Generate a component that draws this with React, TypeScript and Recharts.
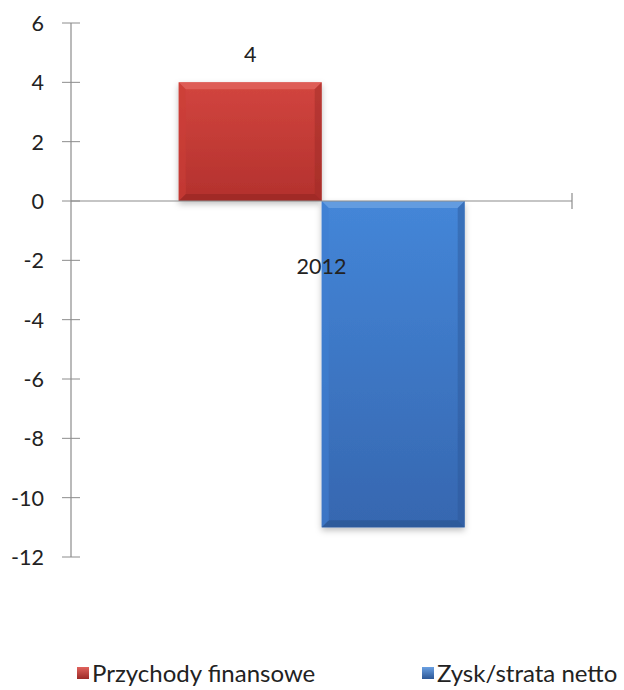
import { BarChart, Bar, XAxis, YAxis, ReferenceLine, Legend, LabelList } from "recharts";

const categories = ["2012"];
const przychodyFinansowe = [4];
const zyskStrataNetto = [-11];
const yTicks = [-12, -10, -8, -6, -4, -2, 0, 2, 4, 6];

const seriesNames = ["Przychody finansowe", "Zysk/strata netto"];

const data = categories.map((c, i) => ({
  name: c,
  przychody: przychodyFinansowe[i],
  zysk: zyskStrataNetto[i],
}));

const FONT = "Lato, 'Open Sans', sans-serif";
const AXIS = "#8c8c8c";

const palette = {
  red: { light: "#e0625c", face: "#cc3d37", dark: "#9c2a26", top: "#d2453f", bottom: "#b3312d" },
  blue: { light: "#6aa0e2", face: "#3f7fd2", dark: "#2c5796", top: "#4486d8", bottom: "#3667b0" },
};

function bevelBar(key: "red" | "blue") {
  return (props: any) => {
    const { x, y, width, height } = props;
    const top = Math.min(y, y + height);
    const h = Math.abs(height);
    const w = width;
    const b = 7;
    const c = palette[key];
    return (
      <g filter="url(#barShadow)">
        <rect x={x} y={top} width={w} height={h} fill={`url(#grad-${key})`} />
        <polygon points={`${x},${top} ${x + w},${top} ${x + w - b},${top + b} ${x + b},${top + b}`} fill={c.light} opacity={0.85} />
        <polygon points={`${x},${top + h} ${x + w},${top + h} ${x + w - b},${top + h - b} ${x + b},${top + h - b}`} fill={c.dark} opacity={0.8} />
        <polygon points={`${x},${top} ${x + b},${top + b} ${x + b},${top + h - b} ${x},${top + h}`} fill={c.face} opacity={0.6} />
        <polygon points={`${x + w},${top} ${x + w - b},${top + b} ${x + w - b},${top + h - b} ${x + w},${top + h}`} fill={c.dark} opacity={0.45} />
      </g>
    );
  };
}

function YTick(props: any) {
  const { x, y, payload } = props;
  return (
    <g>
      <line x1={x - 9} x2={x + 9} y1={y} y2={y} stroke={AXIS} strokeWidth={1} />
      <text x={x - 27} y={y} textAnchor="end" dominantBaseline="central" fontFamily={FONT} fontSize={21.5} fill="#222">
        {payload.value}
      </text>
    </g>
  );
}

function ZeroLine(props: any) {
  const { x1, x2, y1, y2 } = props;
  return (
    <g>
      <line x1={x1} x2={x2} y1={y1} y2={y2} stroke={AXIS} strokeWidth={1.2} />
      <line x1={x2} x2={x2} y1={y2 - 8} y2={y2 + 8} stroke={AXIS} strokeWidth={1.2} />
    </g>
  );
}

function LegendContent() {
  const keys: ("red" | "blue")[] = ["red", "blue"];
  return (
    <div style={{ display: "flex", paddingLeft: 77, fontFamily: FONT, fontSize: 24, color: "#222", lineHeight: "28px" }}>
      {seriesNames.map((n, i) => (
        <div key={n} style={{ display: "flex", alignItems: "center", width: i === 0 ? 345 : "auto" }}>
          <span
            style={{
              display: "inline-block",
              width: 12,
              height: 12,
              marginRight: 3,
              background: `linear-gradient(${palette[keys[i]].light}, ${palette[keys[i]].dark})`,
            }}
          />
          {n}
        </div>
      ))}
    </div>
  );
}

export default function App() {
  return (
    <div style={{ position: "absolute", left: 0, top: 0, background: "#fff" }}>
      <BarChart
        width={624}
        height={690}
        data={data}
        margin={{ top: 23, right: 52, bottom: 133, left: 0 }}
        barCategoryGap="21.5%"
        barGap={0}
      >
        <defs>
          <linearGradient id="grad-red" x1="0" y1="0" x2="0" y2="1">
            <stop offset="0%" stopColor={palette.red.top} />
            <stop offset="100%" stopColor={palette.red.bottom} />
          </linearGradient>
          <linearGradient id="grad-blue" x1="0" y1="0" x2="0" y2="1">
            <stop offset="0%" stopColor={palette.blue.top} />
            <stop offset="100%" stopColor={palette.blue.bottom} />
          </linearGradient>
          <filter id="barShadow" x="-10%" y="-10%" width="120%" height="120%">
            <feDropShadow dx="0" dy="3" stdDeviation="3" floodColor="#000" floodOpacity="0.25" />
          </filter>
        </defs>
        <XAxis dataKey="name" hide />
        <YAxis
          type="number"
          domain={[-12, 6]}
          ticks={yTicks}
          interval={0}
          width={71}
          axisLine={{ stroke: AXIS, strokeWidth: 1.2 }}
          tickLine={false}
          tickSize={0}
          tickMargin={0}
          tick={<YTick />}
        />
        <Legend verticalAlign="middle" wrapperStyle={{ top: 659, left: 0, width: 624 }} content={<LegendContent />} />
        <Bar dataKey="przychody" name={seriesNames[0]} shape={bevelBar("red")} isAnimationActive={false}>
          <LabelList dataKey="przychody" position="top" offset={20} fontFamily={FONT} fontSize={21.5} fill="#222" />
        </Bar>
        <Bar dataKey="zysk" name={seriesNames[1]} shape={bevelBar("blue")} isAnimationActive={false} />
        <ReferenceLine
          y={0}
          shape={<ZeroLine />}
          label={{ value: categories[0], position: "bottom", offset: 58, fontFamily: FONT, fontSize: 21.5, fill: "#222" }}
        />
      </BarChart>
    </div>
  );
}
